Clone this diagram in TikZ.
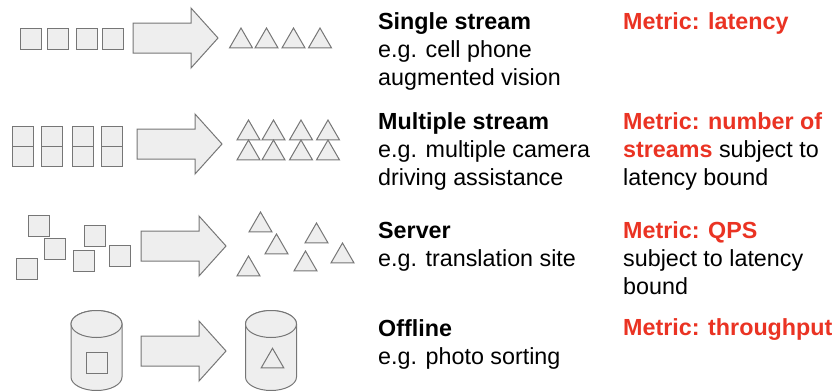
\documentclass[tikz,border=0pt]{standalone}
\usepackage{fontspec}
\setmainfont{Liberation Sans}
\usetikzlibrary{shapes.geometric}

\definecolor{fillgray}{RGB}{238,238,238}
\definecolor{edgegray}{RGB}{118,118,118}
\definecolor{metricred}{RGB}{234,51,35}

\tikzset{
  sq/.style={rectangle, draw=edgegray, fill=fillgray, line width=1pt, minimum size=21pt, inner sep=0pt},
  halfsq/.style={sq, minimum height=20pt},
  tri/.style={regular polygon, regular polygon sides=3, draw=edgegray, fill=fillgray, line width=1pt, minimum size=26.6pt, inner sep=0pt},
  bigarrow/.style={draw=edgegray, fill=fillgray, line width=1pt, line join=miter},
  can/.style={draw=edgegray, fill=fillgray, line width=1pt},
  txt/.style={anchor=base west, align=left, inner sep=0pt, font=\fontsize{23.3}{28}\selectfont},
}
\newcommand{\red}[1]{\textcolor{metricred}{\textbf{#1}}}

\begin{document}
\begin{tikzpicture}[x=1pt, y=-1pt]
    \useasboundingbox (0,0) rectangle (833,391);

    % single stream
    \foreach \n/\x in {1/30.5, 2/57.5, 3/86.5, 4/113} {
        \node[sq] (in1\n) at (\x,38.5) {};
    }
    \foreach \n/\x in {1/241, 2/266.5, 3/293.5, 4/320} {
        \node[tri] (out1\n) at (\x,41.3) {};
    }

    % multiple stream
    \foreach \n/\x in {1/22.5, 2/52, 3/83, 4/112} {
        \node[halfsq] (in2\n a) at (\x,136) {};
        \node[halfsq] (in2\n b) at (\x,156) {};
    }
    \foreach \n/\x in {1/248.5, 2/273.5, 3/301, 4/328} {
        \node[tri] (out2\n a) at (\x,133.3) {};
        \node[tri] (out2\n b) at (\x,153.3) {};
    }

    % server
    \foreach \n/\x/\y in {1/38.5/226, 2/54.5/249, 3/26.5/269, 4/94.5/236, 5/83.5/261, 6/119.5/256} {
        \node[sq] (in3\n) at (\x,\y) {};
    }
    \foreach \n/\x/\y in {1/260.5/225.3, 2/276.5/247.3, 3/248.5/269.3, 4/316.5/236.3, 5/305.5/264.3, 6/342.5/256.3} {
        \node[tri] (out3\n) at (\x,\y) {};
    }

    % offline: two storage cans
    \foreach \cx in {96.5, 271} {
        \draw[can] (\cx-25.5,324) -- (\cx-25.5,377)
            arc[start angle=180, end angle=0, x radius=25.5, y radius=13.5]
            -- (\cx+25.5,324)
            arc[start angle=0, end angle=-180, x radius=25.5, y radius=13.5] -- cycle;
        \draw[can] (\cx,324) ellipse[x radius=25.5, y radius=13.5];
    }
    \node[sq] (in4) at (96.5,363) {};
    \node[tri, minimum size=26pt] (out4) at (272.5,361.3) {};

    % block arrows
    \foreach \ax/\ay in {133/38, 137/144, 141/246, 141/351} {
        \draw[bigarrow] (\ax,\ay-15) -- ++(58,0) -- ++(0,-15) -- ++(27,30)
            -- ++(-27,30) -- ++(0,-15) -- ++(-58,0) -- cycle;
    }

    % scenario texts (base anchor sits on the last line)
    \node[txt] (single) at (378,85) {\textbf{Single stream}\\e.g. cell phone\\augmented vision};
    \node[txt] (multi) at (378,185) {\textbf{Multiple stream}\\e.g. multiple camera\\driving assistance};
    \node[txt] (server) at (378,266) {\textbf{Server}\\e.g. translation site};
    \node[txt] (offline) at (378,364) {\textbf{Offline}\\e.g. photo sorting};

    % metrics
    \node[txt] (metsingle) at (623,29) {\red{Metric: latency}};
    \node[txt] (metmulti) at (623,185) {\red{Metric: number of}\\\red{streams} subject to\\latency bound};
    \node[txt] (metserver) at (623,294) {\red{Metric: QPS}\\subject to latency\\bound};
    \node[txt] (metoffline) at (623,335) {\red{Metric: throughput}};
\end{tikzpicture}
\end{document}
